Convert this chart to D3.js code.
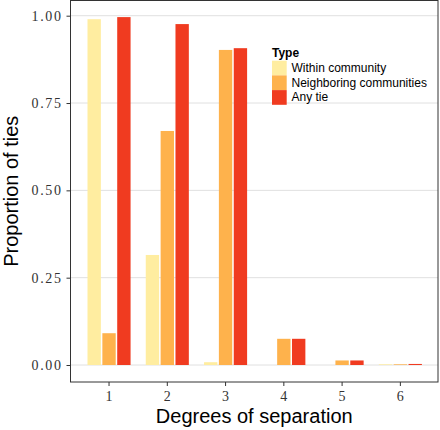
<!DOCTYPE html>
<html><head><meta charset="utf-8">
<script src="https://cdn.jsdelivr.net/npm/d3@7"></script>
<style>body{margin:0;background:#fff;} svg{display:block;}</style>
</head><body>
<svg id="chart" width="440" height="430"></svg>
<script>
const degrees = ["1","2","3","4","5","6"];
const types = ["Within community","Neighboring communities","Any tie"];
const withinCommunity = [0.990, 0.315, 0.008, 0.000, 0.000, 0.002];
const neighboring = [0.091, 0.670, 0.902, 0.075, 0.013, 0.002];
const anyTie = [0.996, 0.976, 0.907, 0.075, 0.013, 0.003];
const yTicks = [0, 0.25, 0.5, 0.75, 1.0];
const colors = ["#FFEDA0","#FEB24C","#F03B20"];

const series = [withinCommunity, neighboring, anyTie];
const data = [];
degrees.forEach((d,i)=>series.forEach((s,j)=>data.push({deg:d, type:types[j], v:s[i]})));

const svg = d3.select("#chart");
const L=70.5, R=438, T=0.5, B=382;
const x = d3.scaleBand().domain(degrees).range([79.9, 429.5]).paddingInner(0.235).paddingOuter(0.1175);
const xSub = d3.scaleBand().domain(types).range([0, x.bandwidth()]);
const y = d3.scaleLinear().domain([0,1]).range([365, 15.7]);

const serif = "'Liberation Serif', 'DejaVu Serif', serif";
const sans = "'Liberation Sans', Arial, sans-serif";

// grid
svg.append("g").selectAll("line").data(yTicks).join("line")
  .attr("x1",L).attr("x2",R).attr("y1",d=>y(d)).attr("y2",d=>y(d))
  .attr("stroke","#e0e0e0").attr("stroke-width",1);

// bars
svg.append("g").selectAll("rect").data(data).join("rect")
  .attr("x",d=>x(d.deg)+xSub(d.type)+0.75)
  .attr("width",xSub.bandwidth()-1.5)
  .attr("y",d=>y(d.v))
  .attr("height",d=>y(0)-y(d.v))
  .attr("fill",d=>colors[types.indexOf(d.type)]);

// border
svg.append("rect").attr("x",L).attr("y",T).attr("width",R-L).attr("height",B-T)
  .attr("fill","none").attr("stroke","#333").attr("stroke-width",1);

// axes
const yAxis = d3.axisLeft(y).tickValues(yTicks).tickFormat(d3.format(".2f")).tickSize(4).tickPadding(4);
const gy = svg.append("g").attr("transform",`translate(${L},0)`).call(yAxis);
gy.select(".domain").remove();
gy.selectAll(".tick line").attr("stroke","#333");
gy.selectAll(".tick text").attr("fill","#333").style("font-family",serif).style("font-size","14px").style("letter-spacing","1.6px");

const xAxis = d3.axisBottom(x).tickSize(4).tickPadding(5);
const gx = svg.append("g").attr("transform",`translate(0,${B})`).call(xAxis);
gx.select(".domain").remove();
gx.selectAll(".tick line").attr("stroke","#333");
gx.selectAll(".tick text").attr("fill","#333").style("font-family",serif).style("font-size","14px");

// axis titles
svg.append("text").attr("x",(L+R)/2).attr("y",423).attr("text-anchor","middle")
  .style("font-family",sans).style("font-size","20px").attr("fill","#000")
  .text("Degrees of separation");
svg.append("text").attr("transform",`translate(18,${(T+B)/2}) rotate(-90)`).attr("text-anchor","middle")
  .style("font-family",sans).style("font-size","20px").attr("fill","#000")
  .text("Proportion of ties");

// legend
const lg = svg.append("g").attr("transform","translate(272,0)");
lg.append("text").attr("x",0).attr("y",57).style("font-family",sans)
  .style("font-size","12px").style("font-weight","bold").text("Type");
types.forEach((t,i)=>{
  lg.append("rect").attr("x",0).attr("y",60.7+i*14.7).attr("width",14.7).attr("height",14.7).attr("fill",colors[i]);
  lg.append("text").attr("x",19.5).attr("y",60.7+i*14.7+11.3).style("font-family",sans)
    .style("font-size","12px").attr("fill","#000").text(t);
});
</script>
</body></html>
